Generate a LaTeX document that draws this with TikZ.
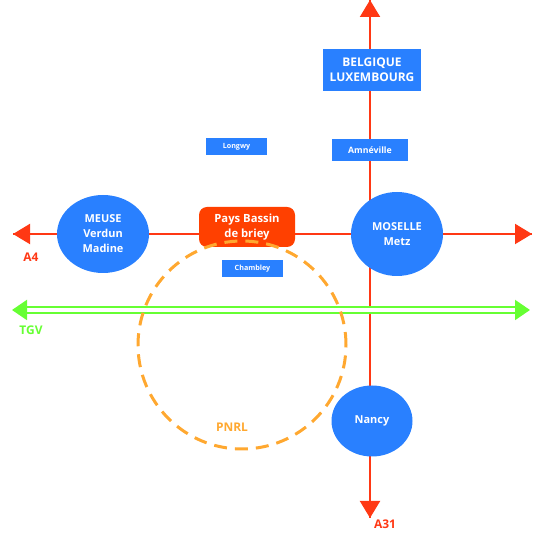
\documentclass[tikz,border=0pt]{standalone}
\usepackage{fontspec}
\setmainfont{Open Sans}
\usetikzlibrary{arrows.meta,shapes}
\definecolor{roadred}{RGB}{255,56,20}
\definecolor{tgvgreen}{RGB}{102,255,51}
\definecolor{townblue}{RGB}{41,128,255}
\definecolor{briey}{RGB}{255,64,0}
\definecolor{parkorange}{RGB}{255,168,48}
\tikzset{
  road/.style={draw=roadred,line width=2bp,-{Triangle[width=20bp,length=17bp]}},
  tgv/.style={draw=tgvgreen,line width=2bp,double=white,double distance=3.5bp,
    {Triangle[width=20bp,length=15bp]}-{Triangle[width=20bp,length=15bp]}},
  dept/.style={ellipse,fill=townblue,text=white,font=\bfseries\fontsize{11}{15}\selectfont,align=center,inner sep=0pt},
  tag/.style={rectangle,fill=townblue,text=white,font=\bfseries\fontsize{7.2}{9}\selectfont,inner sep=0pt},
  roadlabel/.style={text=roadred,font=\bfseries\fontsize{12}{14}\selectfont}
}
\begin{document}
\begin{tikzpicture}[>=latex,line join=bevel]
  \useasboundingbox (0bp,0bp) rectangle (533bp,534bp);
  % Road ends
  \coordinate (west) at (13bp,300bp);
  \coordinate (east) at (532bp,300bp);
  \coordinate (north) at (370bp,534bp);
  \coordinate (south) at (370bp,16bp);
  \coordinate (tgvw) at (12bp,224bp);
  \coordinate (tgve) at (530bp,224bp);
  % Edge: A4
  \draw [road] (east) -- (west);
  \draw [road] (west) -- (east);
  % Edge: A31
  \draw [road] (north) -- (south);
  \draw [road] (south) -- (north);
  % Edge: TGV
  \draw [tgv] (tgvw) -- (tgve);
  % Node: meuse
  \node [dept,minimum width=92bp,minimum height=78bp] (meuse) at (103bp,300bp) {MEUSE\\Verdun\\Madine};
  % Node: moselle
  \node [dept,minimum width=92bp,minimum height=84bp] (moselle) at (397bp,300bp) {MOSELLE\\Metz};
  % Node: nancy
  \node [dept,minimum width=81bp,minimum height=71bp,font=\bfseries\fontsize{11}{13}\selectfont] (nancy) at (372bp,113bp) {Nancy};
  % Node: belux
  \node [dept,rectangle,minimum width=98bp,minimum height=42bp,font=\bfseries\fontsize{12}{15}\selectfont] (belux) at (372bp,464bp) {BELGIQUE\\LUXEMBOURG};
  % Node: amneville
  \node [tag,minimum width=76bp,minimum height=22bp,font=\bfseries\fontsize{8.8}{10}\selectfont] (amneville) at (370bp,384bp) {Amnéville};
  % Node: longwy
  \node [tag,minimum width=61bp,minimum height=17bp] (longwy) at (236.5bp,387.5bp) {Longwy};
  % Node: chambley
  \node [tag,minimum width=61bp,minimum height=17bp] (chambley) at (252.5bp,265.5bp) {Chambley};
  % Node: briey
  \node [dept,rectangle,rounded corners=8bp,fill=briey,minimum width=96bp,minimum height=40bp,font=\bfseries\fontsize{11.3}{15}\selectfont] (briey) at (247bp,307bp) {Pays Bassin\\de briey};
  % Node: pnrl
  \draw [parkorange,line width=3bp,dash pattern=on 13bp off 8bp] (242bp,189bp) circle (104bp);
  \node [text=parkorange,font=\bfseries\fontsize{12}{14}\selectfont] (pnrl) at (232bp,107bp) {PNRL};
  % Labels
  \node [roadlabel] (a4) at (31bp,277bp) {A4};
  \node [roadlabel] (a31) at (385bp,10bp) {A31};
  \node [roadlabel,text=tgvgreen] (tgvlabel) at (31bp,204bp) {TGV};
%
\end{tikzpicture}
\end{document}
